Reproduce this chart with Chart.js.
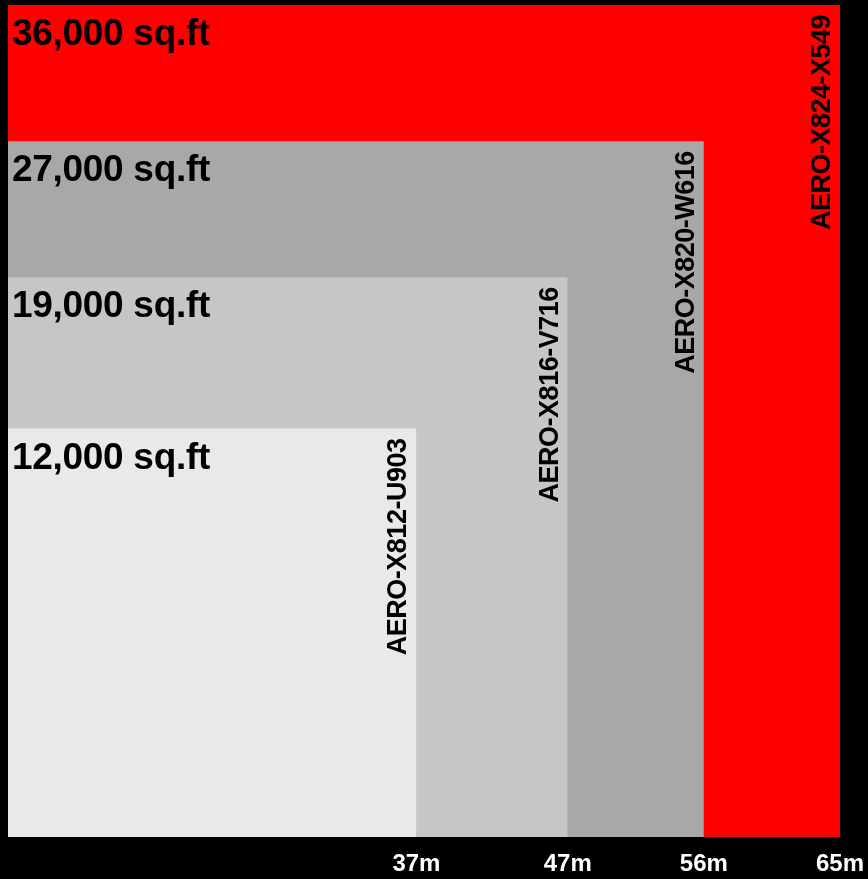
<!DOCTYPE html>
<html>
<head>
<meta charset="utf-8">
<script src="https://cdn.jsdelivr.net/npm/chart.js@4.4.1/dist/chart.umd.min.js"></script>
<style>
    html, body { margin: 0; padding: 0; background: #000; }
    #wrap { width: 868px; height: 879px; position: relative; }
</style>
</head>
<body>
<div id="wrap"><canvas id="hangars"></canvas></div>
<script>
// hangar sizes, smallest first (drawn on top)
const widths = [37, 47, 56, 65];                 // metres
const areas = [12000, 19000, 27000, 36000];      // sq.ft
const models = ['AERO-X812-U903', 'AERO-X816-V716', 'AERO-X820-W616', 'AERO-X824-X549'];
const colours = ['#e9e9e9', '#c6c6c6', '#a8a8a8', '#ff0000'];
const xTicks = [37, 47, 56, 65];
const axisMin = 10;

const labelPlugin = {
    id: 'squareLabels',
    afterDatasetsDraw(chart) {
        const ctx = chart.ctx;
        const xs = chart.scales.x, ys = chart.scales.y;
        const left = chart.chartArea.left;
        for (let i = widths.length - 1; i >= 0; i--) {
            const right = xs.getPixelForValue(widths[i]);
            const top = ys.getPixelForValue(widths[i]);
            ctx.save();
            ctx.fillStyle = '#000';
            ctx.font = "bold 37px 'Liberation Sans', Arial, sans-serif";
            ctx.letterSpacing = '-0.3px';
            ctx.textAlign = 'left';
            ctx.textBaseline = 'alphabetic';
            ctx.fillText(areas[i].toLocaleString('en-US') + ' sq.ft', left + 4, top + 40);

            ctx.font = "bold 27px 'Liberation Sans', Arial, sans-serif";
            ctx.letterSpacing = '-0.5px';
            ctx.translate(right - 10, top + 10);
            ctx.rotate(-Math.PI / 2);
            ctx.textAlign = 'right';
            ctx.fillText(models[i], 0, 0);
            ctx.restore();
        }
    }
};

const ctx = document.getElementById('hangars').getContext('2d');

new Chart(ctx, {
    type: 'line',
    data: {
        datasets: widths.map(function(w, i) {
            return {
                label: models[i],
                data: [{x: axisMin, y: w}, {x: w, y: w}],
                fill: 'start',
                backgroundColor: colours[i],
                borderWidth: 0,
                pointRadius: 0,
                tension: 0
            };
        })
    },
    options: {
        responsive: true,
        maintainAspectRatio: false,
        animation: false,
        layout: { padding: { left: 8, top: 5, right: 28, bottom: 0 } },
        plugins: {
            legend: { display: false },
            tooltip: { enabled: false }
        },
        scales: {
            x: {
                type: 'linear',
                min: axisMin,
                max: 65,
                grid: { display: false, drawTicks: false },
                border: { display: false },
                afterBuildTicks: function(axis) {
                    axis.ticks = xTicks.map(v => ({ value: v }));
                },
                afterFit: function(axis) {
                    axis.height = 42;
                    axis.paddingLeft = 0;
                    axis.paddingRight = 0;
                },
                ticks: {
                    autoSkip: false,
                    maxRotation: 0,
                    padding: 13,
                    color: '#fff',
                    font: { family: "'Liberation Sans', Arial, sans-serif", size: 24, weight: 'bold' },
                    callback: v => v + 'm'
                }
            },
            y: {
                type: 'linear',
                display: false,
                min: axisMin,
                max: 65
            }
        }
    },
    plugins: [labelPlugin]
});
</script>
</body>
</html>
